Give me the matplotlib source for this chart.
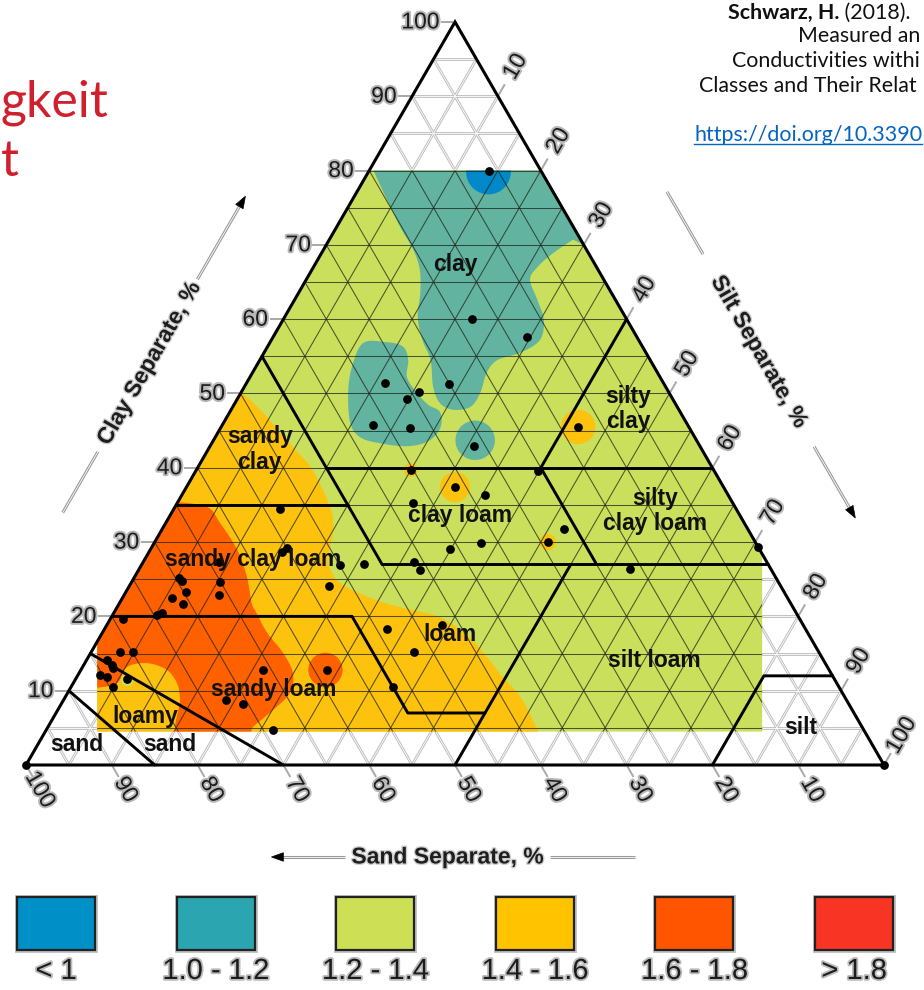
import numpy as np
import matplotlib
matplotlib.use("Agg")
import matplotlib.pyplot as plt
from matplotlib.patches import Polygon, Circle, Rectangle
from matplotlib.collections import LineCollection
import matplotlib.patheffects as pe

plt.rcParams["font.family"] = ["Liberation Sans", "DejaVu Sans"]

# ---------------- data ----------------
CLASS_LABELS = ["< 1", "1.0 - 1.2", "1.2 - 1.4", "1.4 - 1.6", "1.6 - 1.8", "> 1.8"]
LEGEND_COLORS = ["#0090C8", "#2BA6B0", "#CDE055", "#FFC300", "#FF5500", "#F83524"]
FILL_COLORS = ["#0088C8", "#62B4A0", "#CADF5C", "#FDC20E", "#FF6000", "#F83524"]

# measured samples (clay %, silt %)
SAMPLE_CLAY = [80.0, 60.0, 57.6, 51.4, 50.2, 51.3, 49.3, 45.8, 45.4, 42.9,
               45.5, 39.6, 39.7, 37.4, 36.3, 35.3, 31.8, 29.9, 29.1, 30.0,
               26.4, 29.3, 27.3, 26.2, 27.1, 26.9, 24.1, 18.3, 18.8, 15.2,
               10.5, 12.8, 34.5, 29.2, 28.7, 27.3, 25.2, 24.8, 24.6, 23.3,
               22.9, 22.5, 21.7, 20.2, 20.5, 19.7, 15.2, 15.2, 14.1, 13.5,
               12.1, 11.8, 13.1, 10.5, 11.6, 12.8, 8.7, 8.2, 4.7, 0.0, 0.0]
SAMPLE_SILT = [14.0, 22.0, 29.6, 16.1, 20.7, 23.6, 19.7, 17.5, 22.1, 30.8,
               41.6, 39.9, 25.0, 31.3, 35.4, 27.5, 46.8, 38.1, 34.9, 45.8,
               57.2, 70.7, 31.6, 32.8, 25.8, 23.1, 23.3, 32.9, 39.1, 37.6,
               37.5, 28.7, 12.4, 15.8, 15.5, 8.9, 5.2, 5.8, 10.3, 7.0,
               11.0, 5.8, 7.4, 5.2, 5.6, 1.5, 3.4, 4.9, 2.4, 3.3,
               2.6, 3.5, 3.6, 4.9, 6.0, 21.2, 19.0, 21.2, 26.4, 0.0, 100.0]

# conductivity class zones: outline (clay %, silt %), smoothed; corners kept straight
AMBER_CLAY = [50.1, 46.8, 42.8, 40.1, 37.0, 33.9, 31.6, 28.9, 27.2, 24.9, 23.1,
              21.5, 20.2, 19.1, 17.2, 14.5, 11.8, 9.2, 6.1, 4.0]
AMBER_SILT = [0.2, 4.7, 9.7, 13.1, 16.1, 18.7, 20.0, 20.9, 21.6, 23.8, 27.3,
              32.0, 37.3, 39.9, 43.1, 46.5, 49.7, 53.0, 56.0, 57.9]
AMBER_CORNERS = [(0, 60), (0, 0)]

ORANGE_CLAY = [35.4, 34.7, 32.6, 28.9, 25.3, 21.8, 20.5, 17.8, 15.1, 12.4, 9.7,
               7.4, 5.1, 3.6, 3.6, 8.7, 11.0, 12.8, 13.7, 13.2, 11.0, 10.4]
ORANGE_SILT = [0.0, 3.8, 6.3, 10.2, 13.1, 15.4, 16.6, 19.2, 22.4, 24.9, 25.9,
               25.1, 23.9, 23.7, 16.1, 13.6, 12.1, 10.0, 7.3, 5.2, 5.1, 3.1]
ORANGE_CORNERS = [(10.4, 0)]

TEAL_CLAY = [80.1, 76.0, 72.4, 69.3, 66.6, 63.5, 60.3, 57.2, 54.5, 50.9, 48.7,
             47.8, 48.2, 50.1, 52.8, 54.5, 55.5, 57.2, 59.9, 62.6, 65.3, 67.0,
             68.9, 70.7]
TEAL_SILT = [0.4, 4.1, 7.4, 10.5, 12.6, 14.2, 15.5, 17.6, 19.9, 22.0, 23.9,
             25.9, 27.7, 27.9, 27.3, 27.7, 29.9, 31.3, 30.4, 28.3, 26.1, 26.1,
             27.0, 28.4]
TEAL_CORNERS = [(70.0, 30.0), (85, 15), (85, 0)]

TEAL2_CLAY = [56.8, 56.9, 56.3, 54.5, 52.2, 50.1, 48.5, 47.5, 45.4, 43.6, 42.9,
              43.3, 44.1, 46.0, 50.1, 53.6]
TEAL2_SILT = [10.9, 13.6, 15.8, 17.3, 18.3, 20.5, 22.6, 24.5, 25.6, 25.1, 23.0,
              19.6, 16.9, 14.8, 12.5, 11.2]

# round spots around single samples: centre (clay, silt), radius %, class index
SPOT_CLAY = [79.8, 43.7, 45.5, 37.4, 39.7, 30.0, 12.8, 11.4]
SPOT_SILT = [14.0, 30.5, 41.6, 31.3, 25.0, 45.8, 28.5, 6.1]
SPOT_R = [2.6, 2.3, 2.0, 1.75, 0.8, 0.95, 2.0, 0.7]
SPOT_CLASS = [0, 1, 3, 3, 3, 3, 4, 2]

# extent of the interpolated map
MAP_CLAY_MIN, MAP_CLAY_MAX = 4.5, 80.0
MAP_X_MIN, MAP_X_MAX = 8.3, 85.8

# USDA texture class boundaries as (clay, silt) polylines
BOUNDARIES = [
    [(55, 0), (40, 15), (35, 20), (27, 28)],
    [(40, 15), (40, 60)],
    [(60, 40), (40, 40)],
    [(35, 0), (35, 20)],
    [(27, 28), (27, 73)],
    [(40, 40), (27, 53)],
    [(20, 0), (20, 28), (7, 41), (7, 50)],
    [(27, 50), (0, 50)],
    [(0, 80), (12, 80), (12, 88)],
    [(15, 0), (0, 30)],
    [(10, 0), (0, 15)],
]

TEXTURE_NAMES = ["clay", "sandy\nclay", "silty\nclay", "clay loam", "silty\nclay loam",
                 "sandy clay loam", "loam", "silt loam", "sandy loam", "loamy",
                 "sand", "sand", "silt"]
NAME_CLAY = [67.3, 42.5, 47.9, 33.6, 34.2, 27.7, 17.6, 14.1, 10.2, 6.5, 2.8, 2.8, 5.1]
NAME_SILT = [16.4, 6.0, 46.2, 33.8, 56.2, 12.6, 40.6, 66.2, 23.8, 10.6, 4.5, 15.4, 87.7]

TICKS = list(range(10, 101, 10))

# ---------------- helpers ----------------
H = np.sqrt(3) / 2


def tern(clay, silt):
    clay = np.asarray(clay, float)
    silt = np.asarray(silt, float)
    return silt + clay / 2, clay * H


def smooth(pts, closed=False, n=12):
    P = np.asarray(pts, float)
    if closed:
        P = np.vstack([P[-1], P, P[0], P[1]])
    else:
        P = np.vstack([P[0], P, P[-1]])
    out = []
    t = np.linspace(0, 1, n, endpoint=False)[:, None]
    for i in range(1, len(P) - 2):
        p0, p1, p2, p3 = P[i - 1], P[i], P[i + 1], P[i + 2]
        out.append(0.5 * (2 * p1 + (-p0 + p2) * t + (2 * p0 - 5 * p1 + 4 * p2 - p3) * t ** 2
                          + (-p0 + 3 * p1 - 3 * p2 + p3) * t ** 3))
    if not closed:
        out.append(P[-2][None, :])
    return np.vstack(out)


def region_xy(clay, silt, corners=None, closed=False):
    X, Y = tern(clay, silt)
    pts = smooth(np.column_stack([X, Y]), closed)
    if corners:
        cx, cy = tern([c[0] for c in corners], [c[1] for c in corners])
        pts = np.vstack([pts, np.column_stack([cx, cy])])
    return pts


def clip_poly(poly, a, b, c):
    out = []
    n = len(poly)
    for i in range(n):
        p, q = poly[i], poly[(i + 1) % n]
        fp = a * p[0] + b * p[1] - c
        fq = a * q[0] + b * q[1] - c
        if fp <= 0:
            out.append(p)
        if fp * fq < 0:
            s = fp / (fp - fq)
            out.append((p[0] + s * (q[0] - p[0]), p[1] + s * (q[1] - p[1])))
    return out


# ---------------- figure ----------------
PX = 8.58  # pixels per percent
FW, FH = 924, 990
fig = plt.figure(figsize=(FW / 100, FH / 100), dpi=100)
ax = fig.add_axes([0, 0, 1, 1])
ax.set_xlim(-26 / PX, (FW - 26) / PX)
ax.set_ylim(-(FH - 765) / PX, 765 / PX)
ax.axis("off")

tri = [(0.0, 0.0), (100.0, 0.0), (50.0, 100 * H)]

# 5 % grid
segs = []
for v in np.arange(5, 100, 5):
    segs.append(np.column_stack(tern([v, v], [0, 100 - v])))
    segs.append(np.column_stack(tern([0, 100 - v], [v, v])))
    segs.append(np.column_stack(tern([0, 100 - v], [100 - v, 0])))
ax.add_collection(LineCollection(segs, colors="#bdbdbd", linewidths=2.0, zorder=1))
ax.add_collection(LineCollection(segs, colors="white", linewidths=0.6, zorder=1.1))

# interpolated map area
dom = tri
dom = clip_poly(dom, -1, 0, -MAP_X_MIN)
dom = clip_poly(dom, 1, 0, MAP_X_MAX)
dom = clip_poly(dom, 0, -1, -MAP_CLAY_MIN * H)
dom = clip_poly(dom, 0, 1, MAP_CLAY_MAX * H)
dom_patch = Polygon(dom, closed=True, facecolor=FILL_COLORS[2], edgecolor="none", zorder=2)
ax.add_patch(dom_patch)

zones = [
    (region_xy(AMBER_CLAY, AMBER_SILT, AMBER_CORNERS), 3),
    (region_xy(ORANGE_CLAY, ORANGE_SILT, ORANGE_CORNERS), 4),
    (region_xy(TEAL_CLAY, TEAL_SILT, TEAL_CORNERS), 1),
    (region_xy(TEAL2_CLAY, TEAL2_SILT, closed=True), 1),
]
for k, (pts, cls) in enumerate(zones):
    p = Polygon(pts, closed=True, facecolor=FILL_COLORS[cls], edgecolor="none", zorder=2.1 + 0.01 * k)
    ax.add_patch(p)
    p.set_clip_path(dom_patch)

sx, sy = tern(SPOT_CLAY, SPOT_SILT)
for k in range(len(SPOT_R)):
    c = Circle((sx[k], sy[k]), SPOT_R[k], facecolor=FILL_COLORS[SPOT_CLASS[k]],
               edgecolor="none", zorder=2.5 + 0.01 * k)
    ax.add_patch(c)
    c.set_clip_path(dom_patch)

dark = LineCollection(segs, colors="#1e2418", linewidths=0.75, alpha=0.75, zorder=3)
ax.add_collection(dark)
dark.set_clip_path(dom_patch)

# class boundaries and outline
for line in BOUNDARIES:
    bx, by = tern([p[0] for p in line], [p[1] for p in line])
    ax.plot(bx, by, color="black", lw=2.1, solid_capstyle="round", zorder=4)
ox, oy = zip(*(tri + [tri[0]]))
ax.plot(ox, oy, color="black", lw=2.2, solid_joinstyle="miter", zorder=4.5)

# samples
px_, py_ = tern(SAMPLE_CLAY, SAMPLE_SILT)
ax.plot(px_, py_, "o", color="black", ms=6.3, mec="none", zorder=5)

# texture class names
nx, ny = tern(NAME_CLAY, NAME_SILT)
for name, x, y in zip(TEXTURE_NAMES, nx, ny):
    ax.text(x, y, name, ha="center", va="center", fontsize=16.5, fontweight="bold",
            color="#111111", linespacing=1.15, zorder=6)

# ticks and tick labels
halo = [pe.withStroke(linewidth=2.8, foreground="#b8b8b8")]
tick_kw = dict(color="#a8a8a8", lw=1.4, zorder=1.5)
lab_kw = dict(fontsize=16.5, color="#1c1c1c", path_effects=halo, zorder=6)
u_silt = np.array([0.5, H])
u_sand = np.array([0.5, -H])
for v in TICKS:
    X, Y = tern(v, 0)
    ax.plot([X - 0.3, X - 1.5], [Y, Y], **tick_kw)
    ax.text(X - 1.8, Y, str(v), ha="right", va="center", **lab_kw)
    E = np.array(tern(100 - v, v))
    a, b = E + 0.3 * u_silt, E + 1.5 * u_silt
    ax.plot([a[0], b[0]], [a[1], b[1]], **tick_kw)
    L = E + 4.0 * u_silt
    ax.text(L[0], L[1], str(v), rotation=60, ha="center", va="center",
            rotation_mode="anchor", **lab_kw)
    B = np.array(tern(0, 100 - v))
    a, b = B + 0.3 * u_sand, B + 1.5 * u_sand
    ax.plot([a[0], b[0]], [a[1], b[1]], **tick_kw)
    L = B + 3.3 * u_sand
    ax.text(L[0], L[1], str(v), rotation=-60, ha="center", va="center",
            rotation_mode="anchor", **lab_kw)


# axis titles with arrows
def rail(p, q):
    ax.plot([p[0], q[0]], [p[1], q[1]], color="#9a9a9a", lw=2.2, zorder=1.5,
            solid_capstyle="butt")
    ax.plot([p[0], q[0]], [p[1], q[1]], color="white", lw=0.6, zorder=1.6)


def head(tip, d):
    d = np.asarray(d, float)
    nrm = np.array([-d[1], d[0]])
    base = tip - 1.4 * d
    ax.add_patch(Polygon([tip, base + 0.5 * nrm, base - 0.5 * nrm], closed=True,
                         facecolor="black", edgecolor="black", lw=0.5, zorder=2))


title_kw = dict(fontsize=16.5, fontweight="bold", color="#1e1e1e", ha="center",
                va="center", rotation_mode="anchor",
                path_effects=[pe.withStroke(linewidth=2, foreground="#d0d0d0")])

d = np.array([0.5, H]); n = np.array([-H, 0.5]); off = 11.0
P = lambda t: t * d + off * n
rail(P(27.6), P(35.8))
rail(P(59.0), P(69.0))
head(P(70.2), d)
c = P(47.7)
ax.text(c[0], c[1], "Clay Separate, %", rotation=60, **title_kw)

top = np.array([50.0, 100 * H])
d = np.array([0.5, -H]); n = np.array([H, 0.5]); off = 11.5
P = lambda t: top + t * d + off * n
rail(P(29.5), P(37.9))
rail(P(63.8), P(72.2))
head(P(73.4), d)
c = P(51.0)
ax.text(c[0], c[1], "Silt Separate, %", rotation=-60, **title_kw)

ys = -10.72
rail((37.2, ys), (29.8, ys))
head(np.array([28.6, ys]), (-1, 0))
rail((61.1, ys), (71.0, ys))
ax.text(49.1, ys, "Sand Separate, %", rotation=0, **title_kw)

# legend
for i, (col, lab) in enumerate(zip(LEGEND_COLORS, CLASS_LABELS)):
    x0 = 17 + i * 159.6
    r = Rectangle((x0 / FW, (FH - 950) / FH), 78 / FW, 53 / FH, transform=fig.transFigure,
                  facecolor=col, edgecolor="#222222", lw=1.6,
                  path_effects=[pe.Stroke(linewidth=3.5, foreground="#c0c0c0"), pe.Normal()])
    fig.add_artist(r)
    fig.text((x0 + 39) / FW, (FH - 971) / FH, lab, ha="center", va="center",
             fontsize=21, color="#1c1c1c",
             path_effects=[pe.withStroke(linewidth=2.6, foreground="#bcbcbc")])

# slide title fragments and reference
red = "#D0202E"
fig.text(1 / FW, 1 - 117 / FH, "gkeit", ha="left", va="baseline", fontsize=36,
         color=red, family=["Lato", "DejaVu Sans"])
fig.text(1 / FW, 1 - 176 / FH, "t", ha="left", va="baseline", fontsize=36,
         color=red, family=["Lato", "DejaVu Sans"])

cite_kw = dict(ha="left", va="baseline", fontsize=15.4, color="#111111",
               family=["Lato", "DejaVu Sans"])
t1 = fig.text(728 / FW, 1 - 19 / FH, "Schwarz, H.", fontweight="bold", **cite_kw)
fig.canvas.draw()
bb = t1.get_window_extent()
fig.text(bb.x1 / FW, 1 - 19 / FH, " (2018).", **cite_kw)
fig.text(798 / FW, 1 - 42 / FH, "Measured an", **cite_kw)
fig.text(732 / FW, 1 - 67 / FH, "Conductivities withi", **cite_kw)
fig.text(699 / FW, 1 - 92 / FH, "Classes and Their Relat", **cite_kw)
link_kw = dict(cite_kw)
link_kw["color"] = "#0563C1"
lk = fig.text(694 / FW, 1 - 141 / FH, "https://doi.org/10.3390", **link_kw)
fig.canvas.draw()
bb = lk.get_window_extent()
fig.add_artist(plt.Line2D([bb.x0 / FW, bb.x1 / FW], [(bb.y0 + 1) / FH] * 2,
                          transform=fig.transFigure, color="#0563C1", lw=1.0))

fig.savefig("out.png", dpi=100)
